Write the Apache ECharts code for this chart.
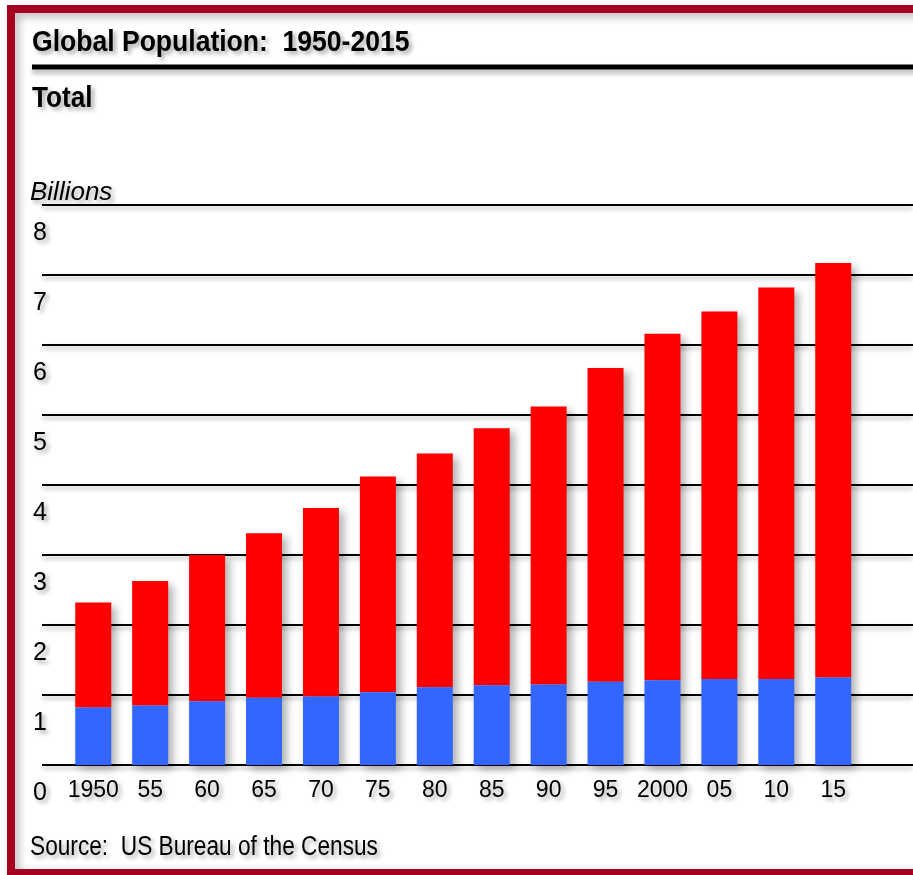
<!DOCTYPE html>
<html>
<head>
<meta charset="utf-8">
<title>Global Population: 1950-2015</title>
<script src="https://cdn.jsdelivr.net/npm/echarts@6/dist/echarts.min.js"></script>
<style>
  html, body { margin: 0; padding: 0; background: #ffffff; }
  #chart { width: 913px; height: 875px; }
</style>
</head>
<body>
<div id="chart"></div>
<script>
// Years shown on the category axis
const years = ['1950', '55', '60', '65', '70', '75', '80', '85', '90', '95', '2000', '05', '10', '15'];
// Lower (blue) segment of each bar, billions
const moreDeveloped = [0.82, 0.85, 0.91, 0.96, 0.98, 1.04, 1.11, 1.14, 1.15, 1.19, 1.21, 1.23, 1.23, 1.25];
// Upper (red) segment of each bar, billions
const lessDeveloped = [1.50, 1.78, 2.09, 2.35, 2.69, 3.08, 3.34, 3.67, 3.97, 4.48, 4.95, 5.25, 5.59, 5.92];
// Value axis ticks
const yTicks = [0, 1, 2, 3, 4, 5, 6, 7, 8];

const FONT = '"Liberation Sans", Arial, Helvetica, sans-serif';
const textShadow = {
  textShadowColor: 'rgba(0,0,0,0.35)',
  textShadowBlur: 4,
  textShadowOffsetX: 3,
  textShadowOffsetY: 3
};

const chart = echarts.init(document.getElementById('chart'), null, { renderer: 'canvas' });

const option = {
  backgroundColor: '#ffffff',
  animation: false,
  grid: [
    // grid 0 carries the full-width rules and the value labels
    { left: 42, right: 0, top: 205, bottom: 110 },
    // grid 1 carries the bars
    { left: 64.8, right: 51.3, top: 205, bottom: 110 }
  ],
  xAxis: [
    { type: 'value', gridIndex: 0, show: false, min: 0, max: 1 },
    {
      type: 'category',
      gridIndex: 1,
      data: years,
      axisLine: { show: false },
      axisTick: { show: false },
      axisLabel: {
        color: '#000',
        fontFamily: FONT,
        fontSize: 23,
        margin: 26,
        verticalAlign: 'middle',
        interval: 0,
        ...textShadow
      }
    }
  ],
  yAxis: [
    {
      type: 'value',
      gridIndex: 0,
      min: yTicks[0],
      max: yTicks[yTicks.length - 1],
      interval: 1,
      axisLine: { show: false },
      axisTick: { show: false },
      splitLine: {
        show: true,
        lineStyle: {
          color: '#000',
          width: 2,
          shadowColor: 'rgba(0,0,0,0.3)',
          shadowBlur: 4,
          shadowOffsetY: 3
        }
      },
      axisLabel: {
        color: '#000',
        fontFamily: FONT,
        fontSize: 25,
        align: 'left',
        margin: 9,
        // each number sits in the band just below its rule
        verticalAlign: 'top',
        lineHeight: 57,
        ...textShadow
      }
    },
    {
      type: 'value',
      gridIndex: 1,
      min: yTicks[0],
      max: yTicks[yTicks.length - 1],
      show: false,
      splitLine: { show: false }
    }
  ],
  series: [
    {
      name: 'More developed',
      type: 'bar',
      xAxisIndex: 1,
      yAxisIndex: 1,
      stack: 'pop',
      barWidth: 36,
      z: 3,
      data: moreDeveloped,
      itemStyle: {
        color: '#3366ff',
        shadowColor: 'rgba(0,0,0,0.3)',
        shadowBlur: 8,
        shadowOffsetX: 5,
        shadowOffsetY: 4
      }
    },
    {
      name: 'Less developed',
      type: 'bar',
      xAxisIndex: 1,
      yAxisIndex: 1,
      stack: 'pop',
      barWidth: 36,
      z: 2,
      data: lessDeveloped,
      itemStyle: {
        color: '#ff0000',
        shadowColor: 'rgba(0,0,0,0.3)',
        shadowBlur: 8,
        shadowOffsetX: 5,
        shadowOffsetY: 4
      }
    }
  ],
  graphic: [
    // dark red frame with a soft inner shadow
    {
      type: 'rect',
      z: 100,
      shape: { x: 11, y: 9, width: 1000, height: 864 },
      style: {
        fill: null,
        stroke: '#a50021',
        lineWidth: 8,
        shadowColor: 'rgba(0,0,0,0.28)',
        shadowBlur: 8,
        shadowOffsetX: 4,
        shadowOffsetY: 4
      }
    },
    // heading
    {
      type: 'text',
      z: 100,
      x: 32,
      y: 43,
      scaleX: 0.915,
      style: {
        text: 'Global Population:  1950-2015',
        fill: '#000',
        font: 'bold 29px ' + FONT,
        verticalAlign: 'middle',
        ...textShadow
      }
    },
    // heavy rule under the heading
    {
      type: 'rect',
      z: 100,
      shape: { x: 32, y: 64.5, width: 900, height: 5 },
      style: {
        fill: '#000',
        shadowColor: 'rgba(0,0,0,0.3)',
        shadowBlur: 5,
        shadowOffsetY: 4
      }
    },
    {
      type: 'text',
      z: 100,
      x: 32,
      y: 98.5,
      scaleX: 0.9,
      style: {
        text: 'Total',
        fill: '#000',
        font: 'bold 29px ' + FONT,
        verticalAlign: 'middle',
        ...textShadow
      }
    },
    {
      type: 'text',
      z: 100,
      x: 30,
      y: 193,
      style: {
        text: 'Billions',
        fill: '#000',
        font: 'italic 26px ' + FONT,
        verticalAlign: 'middle',
        ...textShadow
      }
    },
    {
      type: 'text',
      z: 100,
      x: 30,
      y: 848,
      scaleX: 0.84,
      style: {
        text: 'Source:  US Bureau of the Census',
        fill: '#000',
        font: '27px ' + FONT,
        verticalAlign: 'middle',
        ...textShadow
      }
    }
  ]
};

chart.setOption(option);
</script>
</body>
</html>
